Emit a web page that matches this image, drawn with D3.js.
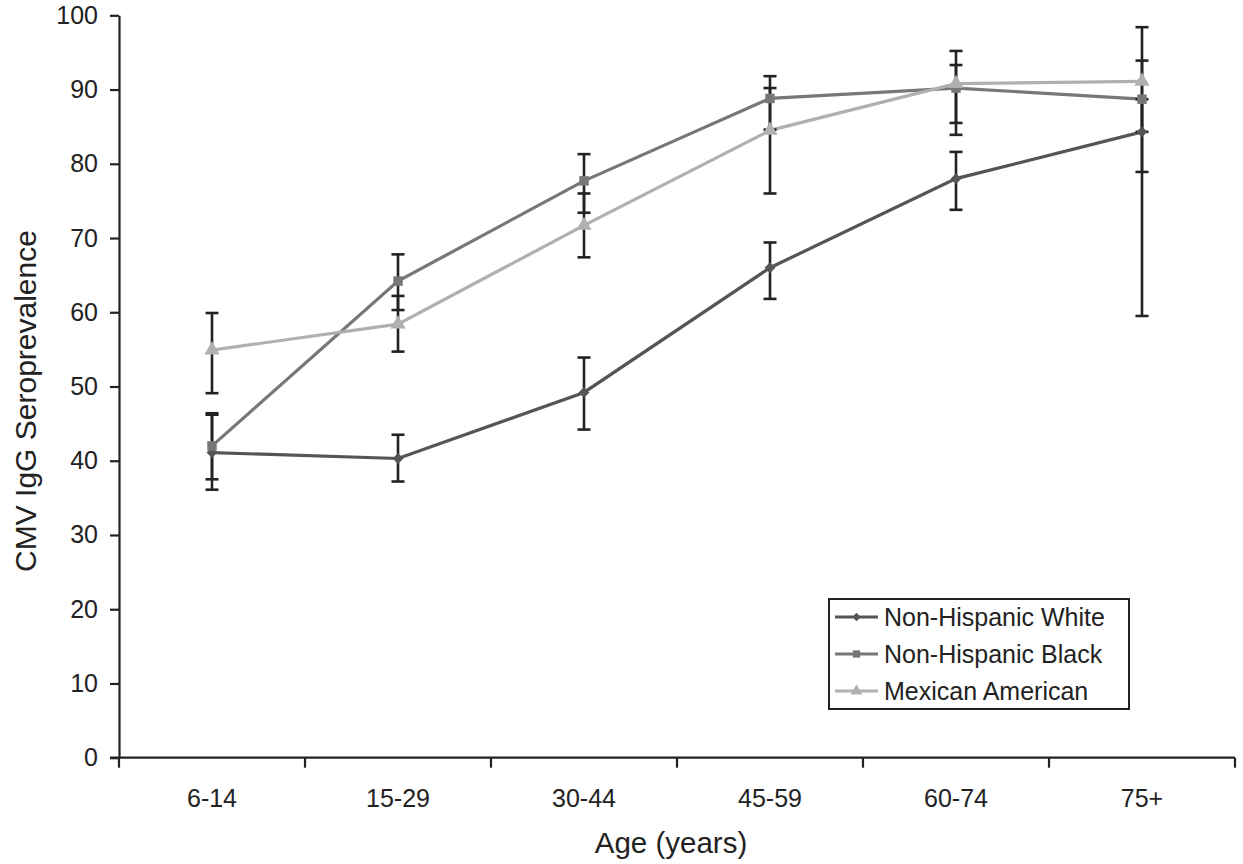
<!DOCTYPE html>
<html>
<head>
<meta charset="utf-8">
<script src="https://cdn.jsdelivr.net/npm/d3@7"></script>
<style>
  body { margin: 0; background: #fff; }
  text { font-family: "Liberation Sans", Arial, sans-serif; fill: #222; }
</style>
</head>
<body>
<div id="chart"></div>
<script>
// age groups on the x axis
const ageGroups = ["6-14", "15-29", "30-44", "45-59", "60-74", "75+"];
const yTicks = [0, 10, 20, 30, 40, 50, 60, 70, 80, 90, 100];

// seroprevalence (%), with error bar ends
const whiteVals = [41.1, 40.3, 49.2, 66.0, 78.0, 84.3];
const whiteLow  = [36.1, 37.2, 44.2, 61.8, 73.8, 59.5];
const whiteHigh = [46.2, 43.5, 53.9, 69.4, 81.6, 88.7];

const blackVals = [42.0, 64.2, 77.7, 88.8, 90.2, 88.7];
const blackLow  = [37.5, 60.3, 73.4, 84.6, 83.9, 78.9];
const blackHigh = [46.4, 67.8, 81.3, 91.8, 93.3, 93.9];

const mexVals = [54.9, 58.4, 71.7, 84.5, 90.8, 91.1];
const mexLow  = [49.1, 54.7, 67.4, 76.0, 85.5, 84.3];
const mexHigh = [59.9, 62.2, 76.0, 90.2, 95.2, 98.4];

const seriesNames = ["Non-Hispanic White", "Non-Hispanic Black", "Mexican American"];

const series = [
    {name: seriesNames[0], vals: whiteVals, lo: whiteLow, hi: whiteHigh, color: "#555555", symbol: d3.symbolDiamond2, size: 75},
    {name: seriesNames[1], vals: blackVals, lo: blackLow, hi: blackHigh, color: "#777777", symbol: d3.symbolSquare, size: 90},
    {name: seriesNames[2], vals: mexVals, lo: mexLow, hi: mexHigh, color: "#b0b0b0", symbol: d3.symbolTriangle, size: 100}
];

const W = 1243, H = 864;
const plotLeft = 119, plotRight = 1235, plotTop = 15.3, plotBottom = 757.7;

const svg = d3.select("#chart").append("svg")
    .attr("width", W).attr("height", H);

const x = d3.scaleBand().domain(ageGroups).range([plotLeft, plotRight]);
const y = d3.scaleLinear().domain([0, 100]).range([plotBottom, plotTop]);
const cx = d => x(d) + x.bandwidth() / 2;

// y axis
const yAxis = svg.append("g")
    .attr("transform", `translate(${plotLeft},0)`)
    .call(d3.axisLeft(y).tickValues(yTicks).tickSize(9).tickPadding(12).tickSizeOuter(0));
yAxis.selectAll("text").style("font-size", "25px").attr("fill", "#222");

// x axis: ticks sit on band boundaries
const xAxis = svg.append("g")
    .attr("transform", `translate(0,${plotBottom})`)
    .call(d3.axisBottom(x).tickSize(0).tickPadding(32));
xAxis.select(".domain").remove();
xAxis.selectAll("text").style("font-size", "25px").attr("fill", "#222");

svg.append("line")
    .attr("x1", plotLeft - 9).attr("x2", plotRight)
    .attr("y1", plotBottom).attr("y2", plotBottom);
const bounds = ageGroups.map(d => x(d)).concat([plotRight]);
svg.append("g").selectAll("line").data(bounds).join("line")
    .attr("x1", d => d).attr("x2", d => d)
    .attr("y1", plotBottom).attr("y2", plotBottom + 10);
svg.selectAll("line, .domain")
    .attr("stroke", "#222").attr("stroke-width", 2.2);

// axis titles
svg.append("text")
    .attr("transform", `translate(36,401) rotate(-90)`)
    .attr("text-anchor", "middle")
    .style("font-size", "30px")
    .text("CMV IgG Seroprevalence");
svg.append("text")
    .attr("x", 671).attr("y", 853)
    .attr("text-anchor", "middle")
    .style("font-size", "29.5px")
    .text("Age (years)");

const line = d3.line().x((d, i) => cx(ageGroups[i])).y(d => y(d));

// lines
series.forEach(s => {
    svg.append("path")
        .datum(s.vals)
        .attr("fill", "none")
        .attr("stroke", s.color)
        .attr("stroke-width", 3.2)
        .attr("d", line);
});

// error bars
series.forEach(s => {
    const g = svg.append("g").attr("stroke", "#222").attr("stroke-width", 2.6);
    ageGroups.forEach((a, i) => {
        const px = cx(a);
        g.append("line").attr("x1", px).attr("x2", px).attr("y1", y(s.lo[i])).attr("y2", y(s.hi[i]));
        [s.lo[i], s.hi[i]].forEach(v => {
            g.append("line").attr("x1", px - 6.5).attr("x2", px + 6.5).attr("y1", y(v)).attr("y2", y(v));
        });
    });
});

// markers
series.forEach(s => {
    svg.append("g").selectAll("path").data(s.vals).join("path")
        .attr("transform", (d, i) => `translate(${cx(ageGroups[i])},${y(d)})`)
        .attr("d", d3.symbol().type(s.symbol).size(s.size))
        .attr("fill", s.color);
});

// legend
const lg = svg.append("g").attr("transform", "translate(829,599)");
lg.append("rect")
    .attr("width", 300).attr("height", 110)
    .attr("fill", "#fff").attr("stroke", "#222").attr("stroke-width", 2);
series.forEach((s, i) => {
    const ry = 18 + i * 37;
    lg.append("line").attr("x1", 6).attr("x2", 49).attr("y1", ry).attr("y2", ry)
        .attr("stroke", s.color).attr("stroke-width", 3.2);
    lg.append("path")
        .attr("transform", `translate(27.5,${ry})`)
        .attr("d", d3.symbol().type(s.symbol).size(s.size * 0.6))
        .attr("fill", s.color);
    lg.append("text")
        .attr("x", 55).attr("y", ry)
        .attr("dy", "0.35em")
        .style("font-size", "25px")
        .text(s.name);
});
</script>
</body>
</html>
